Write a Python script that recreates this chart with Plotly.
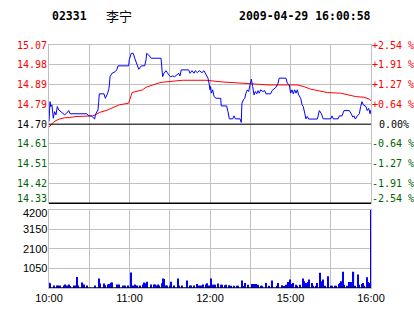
import plotly.graph_objects as go

# ---------------- data ----------------
stock_code = "02331"
stock_name = "李宁"
timestamp = "2009-04-29 16:00:58"
prev_close = 14.70
pct_max = 2.54

price_labels = ["14.33", "14.42", "14.51", "14.61", "14.70", "14.79", "14.89", "14.98", "15.07"]
pct_labels = ["-2.54 %", "-1.91 %", "-1.27 %", "-0.64 %", "0.00%", "+0.64 %", "+1.27 %", "+1.91 %", "+2.54 %"]
vol_ticks = [1050, 2100, 3150, 4200]
time_labels = ["10:00", "", "11:00", "", "12:00", "", "15:00", "", "16:00"]
time_ticks = [0, 30, 60, 90, 120, 150, 180, 210, 240]  # minutes of trading since 10:00

# price line (minute, price)
price_t = [0, 0.75, 1.3, 2.2, 3.2, 4.2, 5.2, 6.2, 7.2, 8.7,
           10.2, 11.7, 13.2, 14.7, 15.7, 28.1, 29.6, 31.5, 32.6, 34.1,
           34.5, 35.6, 36.5, 37, 37.5, 41, 42, 43.5, 44.5, 45,
           45.5, 47, 49, 50.5, 51.4, 59.4, 59.8, 61.3, 62.8, 63.9,
           65.4, 66.9, 68.8, 71.3, 72.3, 72.8, 74.3, 76.2, 83.5, 84.2,
           84.7, 85.7, 87.2, 88.2, 89.2, 90.7, 92.2, 93.7, 95.2, 96.7,
           97.6, 98.6, 104.1, 105.1, 106.6, 108.1, 109, 110.5, 112, 114,
           115.5, 116.5, 117.5, 118.5, 119.5, 120, 120.5, 121, 122, 123,
           124.5, 128, 128.4, 132.4, 133.4, 134.4, 136.9, 137.9, 138.9, 142.4,
           143.3, 143.8, 144.8, 145.9, 146.8, 147.8, 148.8, 149.8, 150.8, 151.8,
           152.8, 153.8, 154.8, 155.8, 156.7, 157.8, 159.3, 160.8, 161.7, 165.2,
           166.2, 169.2, 170.7, 171.6, 176.6, 177.6, 179.1, 180.1, 181.1, 182.1,
           183.1, 184.1, 185.1, 186.1, 187.6, 188.6, 189.5, 190.6, 191.5, 192.5,
           193.6, 200, 201.5, 203, 204.4, 210, 210.9, 211.9, 215.4, 216.4,
           218.4, 219.9, 223.8, 225.3, 226.4, 227.3, 228.3, 229.8, 231.3, 232.3,
           233.3, 234.3, 236.3, 237.2, 238.3, 239.3, 240]
price_v = [14.712, 14.806, 14.783, 14.791, 14.728, 14.759, 14.744, 14.783, 14.767, 14.759,
           14.752, 14.744, 14.752, 14.764, 14.749, 14.749, 14.739, 14.739, 14.733, 14.724,
           14.744, 14.759, 14.767, 14.802, 14.843, 14.843, 14.822, 14.843, 14.862, 14.885,
           14.924, 14.940, 14.946, 14.956, 14.975, 14.975, 15.003, 15.034, 15.034, 15.011,
           14.987, 14.959, 14.975, 14.975, 15.003, 15.034, 15.026, 15.011, 15.011, 14.932,
           14.924, 14.940, 14.952, 14.943, 14.932, 14.924, 14.927, 14.924, 14.932, 14.940,
           14.927, 14.956, 14.956, 14.940, 14.952, 14.940, 14.952, 14.943, 14.952, 14.943,
           14.952, 14.940, 14.924, 14.917, 14.885, 14.862, 14.877, 14.846, 14.862, 14.830,
           14.822, 14.822, 14.786, 14.786, 14.759, 14.725, 14.725, 14.739, 14.725, 14.725,
           14.708, 14.799, 14.814, 14.822, 14.846, 14.862, 14.854, 14.893, 14.912, 14.877,
           14.838, 14.854, 14.843, 14.858, 14.846, 14.862, 14.854, 14.858, 14.843, 14.843,
           14.858, 14.874, 14.893, 14.917, 14.917, 14.893, 14.885, 14.846, 14.862, 14.843,
           14.862, 14.846, 14.862, 14.838, 14.822, 14.791, 14.783, 14.752, 14.725, 14.736,
           14.724, 14.724, 14.764, 14.749, 14.725, 14.725, 14.739, 14.725, 14.725, 14.739,
           14.739, 14.764, 14.764, 14.749, 14.733, 14.739, 14.724, 14.739, 14.749, 14.783,
           14.806, 14.791, 14.783, 14.764, 14.775, 14.749, 14.767]

# average price line (minute, price)
avg_t = [0, 1.3, 3.2, 5.2, 7.7, 11.7, 15.1, 20.1, 27.6, 32.6,
         35, 37.5, 42.5, 46.4, 49, 52.4, 59.4, 60.4, 61.9, 64.8,
         69.8, 72.3, 74.8, 78.8, 81.2, 84.7, 93.7, 99.6, 117, 129.5,
         144.4, 151.8, 163.2, 185.1, 190.1, 195, 201.2, 207.4, 217.4, 222.3,
         228.6, 234.8, 238.7, 240]
avg_v = [14.686, 14.697, 14.708, 14.717, 14.724, 14.730, 14.731, 14.736, 14.739, 14.739,
         14.745, 14.755, 14.764, 14.775, 14.783, 14.791, 14.799, 14.818, 14.849, 14.854,
         14.862, 14.874, 14.880, 14.888, 14.893, 14.898, 14.903, 14.907, 14.907, 14.899,
         14.893, 14.890, 14.885, 14.885, 14.877, 14.865, 14.858, 14.849, 14.846, 14.838,
         14.830, 14.827, 14.818, 14.811]

# volume (minute, shares in hundreds)
vol_t = [0, 1, 4, 6, 7, 8, 11, 12, 13, 14,
         15, 16, 19, 20, 21, 22, 25, 26, 28, 34,
         37, 38, 41, 42, 44, 45, 46, 47, 51, 52,
         55, 57, 59, 61, 63, 64, 66, 68, 70, 71,
         72, 73, 76, 78, 79, 80, 81, 82, 84, 85,
         86, 87, 88, 90, 91, 93, 96, 97, 99, 103,
         105, 106, 108, 110, 112, 113, 115, 117, 118, 119,
         121, 122, 123, 124, 126, 128, 129, 131, 132, 134,
         135, 136, 138, 140, 141, 144, 145, 146, 148, 151,
         153, 154, 156, 158, 159, 162, 164, 166, 170, 171,
         174, 175, 177, 178, 179, 180, 181, 182, 184, 185,
         187, 189, 190, 191, 192, 193, 194, 196, 197, 199,
         200, 202, 203, 204, 206, 208, 210, 211, 213, 214,
         216, 217, 218, 219, 220, 222, 224, 225, 226, 227,
         228, 230, 231, 233, 234, 235, 237, 238, 239, 240]
vol_v = [280, 260, 130, 130, 130, 130, 130, 184, 130, 130,
         184, 110, 130, 130, 590, 130, 295, 184, 130, 130,
         515, 240, 240, 150, 184, 220, 276, 295, 184, 184,
         130, 130, 130, 830, 130, 184, 130, 130, 184, 295,
         260, 330, 184, 184, 184, 130, 184, 130, 260, 515,
         480, 130, 130, 130, 330, 130, 515, 130, 130, 405,
         130, 130, 130, 220, 130, 130, 184, 184, 260, 130,
         515, 180, 180, 180, 235, 180, 180, 145, 180, 145,
         110, 125, 125, 125, 125, 400, 110, 270, 180, 215,
         215, 215, 180, 125, 125, 270, 125, 400, 125, 270,
         145, 110, 180, 325, 325, 450, 215, 270, 180, 125,
         180, 505, 360, 270, 270, 325, 450, 270, 125, 125,
         270, 815, 360, 450, 125, 635, 125, 125, 125, 125,
         215, 270, 360, 870, 180, 125, 325, 325, 125, 870,
         125, 725, 180, 215, 270, 125, 580, 325, 270, 4200]

# ---------------- styling ----------------
RED = "#ff0000"
GREEN = "#006400"
GRID = "#c0c0c0"
MONO = "DejaVu Sans Mono"
SANS = "Liberation Sans"

W, H = 414, 314
ML, MR, MT, MB = 49, 43, 45, 26
ph = H - MT - MB
price_dom = [(288 - 203.3) / ph, 1.0]
vol_dom = [0.0, (288 - 209.7) / ph]

lo = prev_close * (1 - pct_max / 100)
hi = prev_close * (1 + pct_max / 100)
ks = list(range(-4, 5))
grid_price = [prev_close * (1 + pct_max * k / 4 / 100) for k in ks]


def colour(k):
    return RED if k > 0 else ("#000000" if k == 0 else GREEN)


fig = go.Figure()
fig.add_trace(go.Scatter(x=avg_t, y=avg_v, mode="lines", line=dict(color=RED, width=1),
                         xaxis="x", yaxis="y", hoverinfo="skip"))
fig.add_trace(go.Scatter(x=price_t, y=price_v, mode="lines", line=dict(color="#0000ff", width=1),
                         xaxis="x", yaxis="y", hoverinfo="skip"))
fig.add_trace(go.Bar(x=vol_t, y=vol_v, marker=dict(color="#0000ff", line=dict(width=0)),
                     width=0.85, xaxis="x2", yaxis="y2", hoverinfo="skip"))

xcommon = dict(range=[0, 240], tickvals=time_ticks, showgrid=True, gridcolor=GRID, gridwidth=1,
               zeroline=False, showline=True, mirror=True, linecolor=GRID, linewidth=1, ticks="",
               automargin=False)
fig.update_layout(
    width=W, height=H, margin=dict(l=ML, r=MR, t=MT, b=MB, pad=0, autoexpand=False),
    paper_bgcolor="white", plot_bgcolor="white", showlegend=False,
    xaxis=dict(**xcommon, anchor="y", domain=[0, 1], showticklabels=False),
    xaxis2=dict(**xcommon, anchor="y2", domain=[0, 1], ticktext=time_labels,
                tickfont=dict(family=SANS, size=11, color="black")),
    yaxis=dict(domain=price_dom, anchor="x", range=[lo, hi], tickvals=grid_price, showticklabels=False,
               showgrid=True, gridcolor=GRID, zeroline=False, automargin=False,
               showline=True, mirror=True, linecolor=GRID, ticks=""),
    yaxis2=dict(domain=vol_dom, anchor="x2", range=[0, 4200], tickvals=vol_ticks, showticklabels=False,
                showgrid=True, gridcolor=GRID, automargin=False,
                zeroline=False, showline=True, mirror=True, linecolor=GRID, ticks=""),
)

# black reference lines
fig.add_shape(type="line", xref="x domain", yref="y", x0=0, x1=1, y0=prev_close, y1=prev_close,
              line=dict(color="black", width=1))
fig.add_shape(type="line", xref="x domain", yref="y domain", x0=0, x1=1, y0=0, y1=0,
              line=dict(color="black", width=1.5))
fig.add_shape(type="line", xref="x2 domain", yref="y2", x0=0, x1=1, y0=0, y1=0,
              line=dict(color="black", width=1.5))

# axis labels (price left, percentage right)
for k, gp, pl, cl in zip(ks, grid_price, price_labels, pct_labels):
    ys = 5 if k == -4 else 0
    fig.add_annotation(xref="paper", yref="y", x=0, y=gp, text=pl, showarrow=False,
                       xanchor="right", yanchor="middle", xshift=0, yshift=ys,
                       font=dict(family=MONO, size=10, color=colour(k)))
    fig.add_annotation(xref="paper", yref="y", x=1, y=gp, text=cl, showarrow=False,
                       xanchor="left", yanchor="middle", xshift=-1 if k != 0 else 6, yshift=ys,
                       font=dict(family=MONO, size=10, color=colour(k)))
# volume labels
for v in vol_ticks:
    fig.add_annotation(xref="paper", yref="y2", x=0, y=v, text=str(v), showarrow=False,
                       xanchor="right", yanchor="middle", xshift=0, yshift=-3 if v == 4200 else 0,
                       font=dict(family=SANS, size=11, color="black"))

hdr_y = (H - MB - 16) / ph
fig.add_annotation(xref="paper", yref="paper", x=(50 - ML) / (W - ML - MR), y=hdr_y, text=stock_code,
                   showarrow=False, xanchor="left", yanchor="middle",
                   font=dict(family=MONO, size=11.5, color="black", weight="bold"))
fig.add_annotation(xref="paper", yref="paper", x=(104 - ML) / (W - ML - MR), y=hdr_y, text=stock_name,
                   showarrow=False, xanchor="left", yanchor="middle",
                   font=dict(family="Noto Sans CJK SC", size=13, color="black"))
fig.add_annotation(xref="paper", yref="paper", x=(237 - ML) / (W - ML - MR), y=hdr_y, text=timestamp,
                   showarrow=False, xanchor="left", yanchor="middle",
                   font=dict(family=MONO, size=11.5, color="black", weight="bold"))

fig.write_html("out.html", config={"displayModeBar": False})
